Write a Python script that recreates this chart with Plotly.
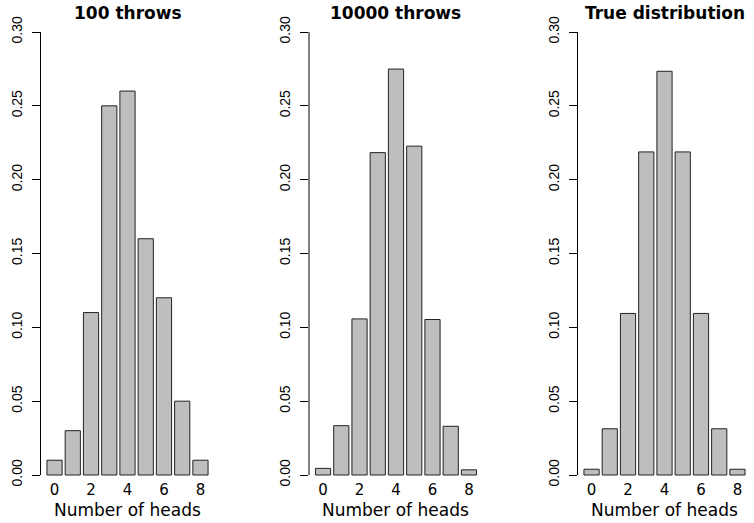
import plotly.graph_objects as go

heads = [0, 1, 2, 3, 4, 5, 6, 7, 8]
throws_100 = [0.01, 0.03, 0.11, 0.25, 0.26, 0.16, 0.12, 0.05, 0.01]
throws_10000 = [0.0045, 0.0334, 0.1057, 0.2183, 0.2749, 0.2227, 0.1053, 0.0330, 0.0035]
true_dist = [0.0039, 0.0313, 0.1094, 0.2188, 0.2734, 0.2188, 0.1094, 0.0313, 0.0039]
titles = ["100 throws", "10000 throws", "True distribution"]
series = [throws_100, throws_10000, true_dist]
x_ticks = [0, 2, 4, 6, 8]
y_ticks = [0.0, 0.05, 0.10, 0.15, 0.20, 0.25, 0.30]
y_tick_text = ["0.00", "0.05", "0.10", "0.15", "0.20", "0.25", "0.30"]
x_label = "Number of heads"

W, H = 754, 523
lefts = [40.5, 309.0, 577.5]
pw = 174.0
y_zero_px, y_top_px = 475.0, 32.0
ppu = (y_zero_px - y_top_px) / 0.30
pad = 0.012
dom_bot = (H - (y_zero_px + pad * ppu)) / H
dom_top = (H - (y_top_px - pad * ppu)) / H

fig = go.Figure()
layout = dict(
    width=W, height=H,
    margin=dict(l=0, r=0, t=0, b=0),
    paper_bgcolor="white", plot_bgcolor="white",
    showlegend=False,
    bargap=1 - 1 / 1.2,
)
annotations = []
shapes = []
for i, (vals, title) in enumerate(zip(series, titles)):
    n = i + 1
    xa = "x" if n == 1 else f"x{n}"
    ya = "y" if n == 1 else f"y{n}"
    fig.add_trace(go.Bar(
        x=heads, y=vals, xaxis=xa, yaxis=ya,
        width=1 / 1.2,
        marker=dict(color="#BEBEBE", line=dict(color="#222222", width=1)),
        hoverinfo="skip",
    ))
    d0 = lefts[i] / W
    d1 = (lefts[i] + pw) / W
    layout[f"xaxis{'' if n == 1 else n}"] = dict(
        domain=[d0, d1], range=[-0.77, 8.77],
        anchor="free", position=(H - 478.5) / H,
        showgrid=False, zeroline=False, showline=False, ticks="",
        tickmode="array", tickvals=x_ticks, ticktext=[str(t) for t in x_ticks],
        tickfont=dict(family="DejaVu Sans", size=15, color="black"),
        fixedrange=True,
    )
    layout[f"yaxis{'' if n == 1 else n}"] = dict(
        domain=[dom_bot, dom_top], range=[-pad, 0.30 + pad],
        anchor=xa, showgrid=False, zeroline=False, showline=False,
        ticks="outside", ticklen=8, tickwidth=1, tickcolor="black",
        tickmode="array", tickvals=y_ticks, ticktext=y_tick_text,
        tickangle=-90, ticklabelstandoff=4,
        tickfont=dict(family="Liberation Sans", size=14, color="black"),
        fixedrange=True,
    )
    shapes.append(dict(type="line", xref=f"{xa} domain", yref=ya,
                       x0=0, x1=0, y0=0, y1=0.30,
                       line=dict(color="black", width=1)))
    annotations.append(dict(
        text=f"<b>{title}</b>", xref="paper", yref="paper",
        x=(lefts[i] + pw / 2) / W, y=(H - 12.5) / H,
        xanchor="center", yanchor="middle", showarrow=False,
        font=dict(family="DejaVu Sans", size=17, color="black"),
    ))
    annotations.append(dict(
        text=x_label, xref="paper", yref="paper",
        x=(lefts[i] + pw / 2) / W, y=(H - 509.5) / H,
        xanchor="center", yanchor="middle", showarrow=False,
        font=dict(family="DejaVu Sans", size=17, color="black"),
    ))

layout["annotations"] = annotations
layout["shapes"] = shapes
fig.update_layout(**layout)
fig.write_html("out.html")
